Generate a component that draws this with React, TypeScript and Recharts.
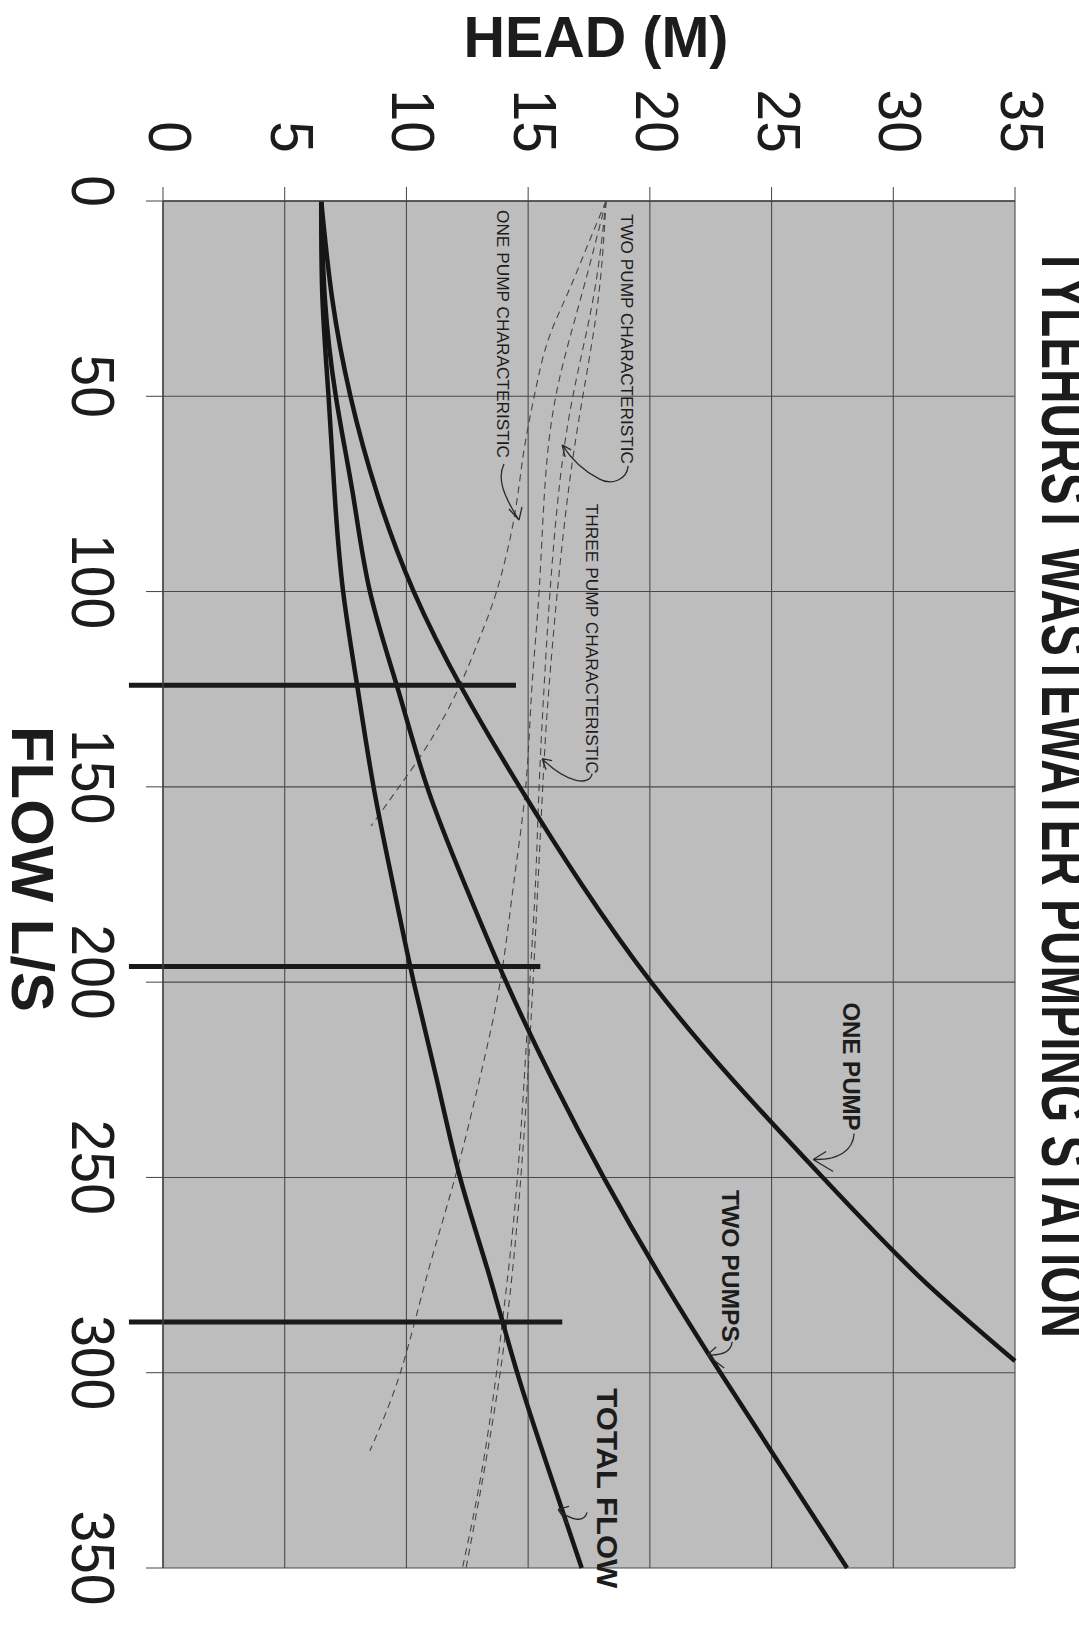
import React from "react";
import {
  ComposedChart, Line, XAxis, YAxis, CartesianGrid,
  ReferenceLine, ReferenceDot,
} from "recharts";

// axes
const headTicks = [0, 5, 10, 15, 20, 25, 30, 35];
const flowTicks = [0, 50, 100, 150, 200, 250, 300, 350];

// system curves: flow (L/s) -> head (m)
const onePumpFlow = [0, 25, 50, 75, 100, 125, 150, 175, 200, 225, 250, 275, 297];
const onePumpHead = [6.5, 6.95, 7.7, 8.8, 10.3, 12.3, 14.65, 17.2, 20.05, 23.4, 27.1, 31.0, 35];

const twoPumpsFlow = [0, 25, 50, 75, 100, 125, 150, 175, 200, 225, 250, 275, 300, 325, 350];
const twoPumpsHead = [6.5, 6.65, 7.1, 7.8, 8.5, 9.65, 10.85, 12.4, 14.1, 16.0, 18.1, 20.4, 22.9, 25.5, 28.1];

const totalFlowFlow = [0, 25, 50, 75, 100, 125, 150, 175, 200, 225, 250, 275, 300, 325, 350];
const totalFlowHead = [6.5, 6.55, 6.8, 7.05, 7.4, 8.0, 8.65, 9.45, 10.3, 11.25, 12.2, 13.4, 14.55, 15.85, 17.2];

// pump characteristics (dashed)
const oneCharFlow = [0, 12, 24, 36, 50, 65, 82, 100, 112, 124, 138, 150, 160];
const oneCharHead = [18.2, 17.4, 16.6, 15.8, 15.25, 14.8, 14.4, 13.7, 13.0, 12.2, 11.0, 9.7, 8.55];

const twoCharFlow = [0, 24, 48, 72, 100, 125, 150, 175, 200, 225, 250, 275, 300, 320];
const twoCharHead = [18.2, 17.2, 16.2, 15.7, 15.45, 15.15, 14.9, 14.4, 13.85, 13.0, 12.0, 10.85, 9.75, 8.5];

const threeCharFlow = [0, 24, 48, 72, 100, 125, 150, 175, 200, 250, 286, 300, 325, 350];
const threeCharHead = [18.2, 17.7, 16.9, 16.3, 15.9, 15.65, 15.45, 15.3, 15.07, 14.56, 13.96, 13.7, 13.1, 12.3];

const threeCharBFlow = [0, 24, 48, 72, 100, 125, 150, 200, 250, 300, 350];
const threeCharBHead = [18.2, 17.9, 17.3, 16.7, 16.2, 15.85, 15.6, 15.2, 14.7, 13.85, 12.45];

// duty point markers
const dutyFlows = [124, 196, 287];
const dutyStartHead = -1.4;
const dutyEndHead = [14.5, 15.5, 16.4];

const series = [
  { key: "onePump", flows: onePumpFlow, heads: onePumpHead },
  { key: "twoPumps", flows: twoPumpsFlow, heads: twoPumpsHead },
  { key: "totalFlow", flows: totalFlowFlow, heads: totalFlowHead },
  { key: "oneChar", flows: oneCharFlow, heads: oneCharHead },
  { key: "twoChar", flows: twoCharFlow, heads: twoCharHead },
  { key: "threeChar", flows: threeCharFlow, heads: threeCharHead },
  { key: "threeCharB", flows: threeCharBFlow, heads: threeCharBHead },
];

const allFlows = Array.from(new Set(series.flatMap((s) => s.flows))).sort((a, b) => a - b);
const rows = allFlows.map((flow) => {
  const row: Record<string, number> = { flow };
  series.forEach((s) => {
    const i = s.flows.indexOf(flow);
    if (i >= 0) row[s.key] = s.heads[i];
  });
  return row;
});

const FONT = "'Liberation Sans', Arial, sans-serif";
const INK = "#1c1c1c";
const PLOT_TOP = 201;

// annotations anchored at text start (head, flow); arrow drawn relative in px
const notes = [
  { text: "ONE PUMP", head: 27.94, flow: 205.2, size: 24, len: 128, bold: true,
    arrow: "M11 131 C10 148 -5 158 -30 157 M-30 157 L-17 149 M-30 157 L-10 169" },
  { text: "TWO PUMPS", head: 22.97, flow: 253.2, size: 24, len: 152, bold: true,
    arrow: "M10 152 C9 161 2 166 -15 165 M-15 165 L-6 157 M-15 165 L2 178" },
  { text: "TOTAL FLOW", head: 17.83, flow: 304.0, size: 29, len: 200, bold: true,
    arrow: "M-10 124 C-13 135 -27 132 -39 121 M-39 121 L-28 118 M-39 121 L-29 136" },
  { text: "ONE PUMP CHARACTERISTIC", head: 13.72, flow: 2.3, size: 17, len: 248, bold: false,
    arrow: "M7 254 C0 268 6 285 22 310 M22 310 L12 299 M22 310 L25 297" },
  { text: "TWO PUMP CHARACTERISTIC", head: 18.82, flow: 3.3, size: 17, len: 250, bold: false,
    arrow: "M7 252 C6 266 -10 272 -22 265 C-36 258 -50 245 -59 231 M-59 231 L-50 236 M-59 231 L-56 243" },
  { text: "THREE PUMP CHARACTERISTIC", head: 17.38, flow: 77.5, size: 17, len: 270, bold: false,
    arrow: "M6 270 C4 283 -20 279 -44 255 M-44 255 L-34 257 M-44 255 L-40 266" },
];

const HeadTick = (props: any) => {
  const { x, payload } = props;
  return (
    <text
      transform={`translate(${x - 14},${PLOT_TOP - 48}) rotate(90) scale(0.92,1)`}
      textAnchor="end" fontSize={62} fontFamily={FONT} fill={INK}
    >
      {payload.value}
    </text>
  );
};

const FlowTick = (props: any) => {
  const { y, payload } = props;
  return (
    <text
      transform={`translate(72,${y - 10}) rotate(90) scale(0.92,1)`}
      textAnchor="middle" fontSize={62} fontFamily={FONT} fill={INK}
    >
      {payload.value}
    </text>
  );
};

const Note = ({ cx, cy, n }: any) => (
  <g>
    <text
      transform={`translate(${cx},${cy}) rotate(90)`}
      fontSize={n.size} fontFamily={FONT} fontWeight={n.bold ? "bold" : "normal"}
      fill={INK} textLength={n.len} lengthAdjust="spacingAndGlyphs"
    >
      {n.text}
    </text>
    <path d={n.arrow} transform={`translate(${cx},${cy})`} fill="none" stroke="#2a2a2a" strokeWidth={1.3} />
  </g>
);

export default function App() {
  return (
    <div style={{ position: "absolute", left: 0, top: 0, width: 1079, height: 1627, background: "#fff", overflow: "hidden" }}>
      <ComposedChart
        layout="vertical"
        width={1079}
        height={1627}
        data={rows}
        margin={{ top: PLOT_TOP - 60, left: 103, right: 64, bottom: 59 }}
      >
        <CartesianGrid fill="#bdbdbd" fillOpacity={1} stroke="#4a4a4a" strokeWidth={1.1} />
        <XAxis
          type="number" orientation="top" domain={[0, 35]} ticks={headTicks} interval={0}
          height={60} tick={<HeadTick />} tickSize={14}
          tickLine={{ stroke: "#444" }} axisLine={{ stroke: "#444", strokeWidth: 1.4 }}
        />
        <YAxis
          type="number" dataKey="flow" domain={[0, 350]} ticks={flowTicks} interval={0}
          width={60} tick={<FlowTick />} tickSize={17}
          tickLine={{ stroke: "#444" }} axisLine={{ stroke: "#444", strokeWidth: 1.4 }}
        />
        {["oneChar", "twoChar", "threeChar", "threeCharB"].map((k) => (
          <Line
            key={k} dataKey={k} type="natural" stroke="#454545" strokeWidth={1.1}
            strokeDasharray="7 5" dot={false} activeDot={false} connectNulls
            isAnimationActive={false}
          />
        ))}
        {["onePump", "twoPumps", "totalFlow"].map((k) => (
          <Line
            key={k} dataKey={k} type="natural" stroke="#161616" strokeWidth={4.5}
            dot={false} activeDot={false} connectNulls isAnimationActive={false}
          />
        ))}
        {dutyFlows.map((f, i) => (
          <ReferenceLine
            key={f}
            segment={[{ x: dutyStartHead, y: f }, { x: dutyEndHead[i], y: f }]}
            stroke="#1a1a1a" strokeWidth={5} ifOverflow="visible"
          />
        ))}
        {notes.map((n) => (
          <ReferenceDot
            key={n.text} x={n.head} y={n.flow} r={0} ifOverflow="visible"
            shape={(p: any) => <Note cx={p.cx} cy={p.cy} n={n} />}
          />
        ))}
      </ComposedChart>
      <svg width={1079} height={1627} style={{ position: "absolute", left: 0, top: 0, pointerEvents: "none" }}>
        <text x={596} y={57} textAnchor="middle" fontSize={58} fontWeight="bold" fontFamily={FONT}
          fill={INK} textLength={265} lengthAdjust="spacingAndGlyphs">HEAD (M)</text>
        <text transform="translate(12,869) rotate(90)" textAnchor="middle" fontSize={60} fontWeight="bold"
          fontFamily={FONT} fill={INK} textLength={286} lengthAdjust="spacingAndGlyphs">FLOW L/S</text>
        <text transform="translate(1042,247) rotate(90)" fontSize={66} fontWeight="bold" fontFamily={FONT}
          fill={INK} textLength={1091} lengthAdjust="spacingAndGlyphs">TYLEHURST WASTEWATER PUMPING STATION</text>
      </svg>
    </div>
  );
}
